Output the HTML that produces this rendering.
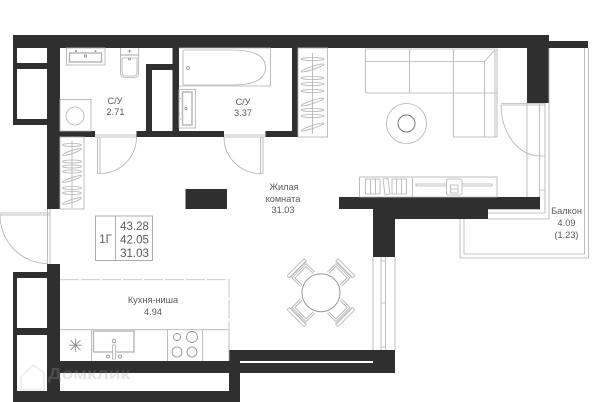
<!DOCTYPE html>
<html><head><meta charset="utf-8"><style>
html,body{margin:0;padding:0;background:#fff;width:600px;height:402px;overflow:hidden}
svg{display:block}
text{font-family:"Liberation Sans",sans-serif;fill:#5a5a5a;text-anchor:middle;font-size:9.200px}
.w{fill:#2f2f2f}
.l{fill:none;stroke:#b4b4b4;stroke-width:.85}
.d{fill:none;stroke:#8a8a8a;stroke-width:.8}
</style></head><body>
<svg width="600" height="402" viewBox="0 0 600 402" xmlns="http://www.w3.org/2000/svg">
<defs>
<g id="h"><ellipse cx="0" cy="0" rx="9.500" ry="1.500" class="l"/></g>
<g id="s"><ellipse cx="0" cy="0" rx="10" ry="1.500" class="l" transform="rotate(-18)"/></g>
<g id="h2"><ellipse cx="0" cy="0" rx="11.500" ry="1.500" class="l"/></g>
<g id="s2"><ellipse cx="0" cy="0" rx="12" ry="1.500" class="l" transform="rotate(-18)"/></g>
<g id="ch"><path class="l" d="M-10 -19 L-10 -31 L10 -31 L10 -19"/><path class="l" d="M-8 -19 L-8 -29 L8 -29 L8 -19"/><rect class="l" x="-12" y="-36" width="24" height="3.500" rx="1"/><path class="l" d="M-11 -33 H11"/></g>
</defs>

<!-- walls -->
<g class="w">
<rect x="13" y="35" width="536" height="13"/>
<rect x="527" y="48" width="22" height="55"/>
<rect x="549" y="41" width="39" height="7"/>
<rect x="13" y="48" width="4" height="77"/>
<rect x="17" y="63" width="30" height="6"/>
<rect x="17" y="119" width="30" height="6"/>
<rect x="47" y="48" width="13" height="161"/>
<rect x="60" y="131" width="35" height="6"/>
<rect x="136.500" y="131" width="87.500" height="6"/>
<rect x="265.500" y="131" width="32.500" height="6"/>
<rect x="292" y="48" width="6" height="89"/>
<rect x="172.500" y="48" width="6.500" height="89"/>
<rect x="146" y="64" width="33" height="6"/>
<rect x="146" y="64" width="6" height="73"/>
<rect x="185.500" y="189" width="41.500" height="20"/>
<rect x="339" y="197" width="201" height="12"/>
<rect x="373" y="209" width="115" height="10"/>
<rect x="373" y="209" width="22" height="48"/>
<rect x="47" y="264" width="13" height="138"/>
<rect x="13" y="272" width="4" height="130"/>
<rect x="17" y="272" width="30" height="6"/>
<rect x="17" y="328" width="30" height="7"/>
<rect x="13" y="391" width="227" height="11"/>
<rect x="60" y="361" width="170" height="12"/>
<rect x="229" y="350" width="166" height="11"/>
<rect x="229" y="363" width="166" height="10"/>
<rect x="373" y="361" width="22" height="2"/>
<rect x="229" y="350" width="11" height="52"/>
</g>

<!-- bathroom 1 -->
<rect class="l" x="66.500" y="48" width="38.500" height="17"/>
<rect class="l" x="69.500" y="53" width="32" height="9" style="stroke-width:1.400"/>
<circle class="d" cx="85.500" cy="56" r="1.200"/>
<circle class="d" cx="76" cy="51" r=".6"/><circle class="d" cx="95.500" cy="51" r=".6"/>
<path class="l" d="M120.500 48V73Q120.500 77 124 77.500H135Q138.500 77 138.500 73V48"/>
<path class="l" d="M122 58H137V72Q137 75.500 134 76H125Q122 75.500 122 72Z"/>
<path class="d" d="M120.500 55H138.500"/>
<path class="d" d="M127.500 51H131.500M129.500 49.500V52.500"/>
<circle class="d" cx="129.500" cy="59" r="1"/>
<rect class="l" x="60" y="99.500" width="31" height="31.500"/>
<circle class="l" cx="75" cy="116" r="9"/>

<!-- bath 2 -->
<path class="l" d="M179 48H270.500V86H179"/>
<path class="l" d="M183 50.500Q183 50 184 50H232Q265.500 50 265.500 67.500Q265.500 85 232 85H184Q183 85 183 84Z"/>
<circle class="d" cx="188" cy="68" r="1.500"/>
<rect class="l" x="179" y="89.500" width="16.500" height="38.500"/>
<rect class="l" x="182.500" y="92" width="9.500" height="33" style="stroke-width:1.400"/>
<circle class="d" cx="186" cy="108.500" r="1.100"/>
<path class="d" d="M180 98.500h1M180 119h1"/>

<!-- doors -->
<path class="l" d="M95 135H136.500M95 137H136.500"/>
<path class="l" d="M97.500 137V173.500H100V137"/>
<path class="l" d="M136.500 137A36.500 36.500 0 0 1 100 173.500"/>
<path class="l" d="M224 135H265.500M224 137H265.500"/>
<path class="l" d="M260.500 137V173.500H263V137"/>
<path class="l" d="M224 137A36.500 36.500 0 0 0 260.500 173.500"/>
<path class="l" d="M0 213H50M0 215H50"/>
<path class="l" d="M47.500 209V264M50 209V264"/>
<path class="l" d="M0 215A47.500 48.500 0 0 0 47.500 263.500"/>

<!-- wardrobes -->
<rect class="l" x="60" y="137" width="24" height="72"/>
<path class="l" d="M72 141V208"/>
<use href="#h" x="72" y="145"/><use href="#s" x="72" y="152"/>
<use href="#h" x="72" y="161.500"/><use href="#h" x="72" y="166.500"/><use href="#h" x="72" y="171.500"/>
<use href="#s" x="72" y="179"/><use href="#h" x="72" y="188"/><use href="#h" x="72" y="193"/><use href="#s" x="72" y="201"/>
<rect class="l" x="298" y="48" width="29.500" height="89"/>
<path class="l" d="M312.500 53V134"/>
<use href="#h2" x="312.500" y="59"/><use href="#s2" x="312.500" y="68"/>
<use href="#h2" x="312.500" y="78"/><use href="#h2" x="312.500" y="84"/><use href="#h2" x="312.500" y="91"/>
<use href="#s2" x="312.500" y="102"/><use href="#h2" x="312.500" y="110"/><use href="#h2" x="312.500" y="116"/><use href="#s2" x="312.500" y="127"/>

<!-- sofa -->
<path class="l" d="M365.500 49H497V137H453.500V93H367Q365.500 93 365.500 91.500Z"/>
<path class="l" d="M365.500 61.500H484.500V137"/>
<path class="l" d="M409.500 49V93M453.500 49V93M453.500 93H497M484.500 61.500L495 50M495 50V137"/>
<circle class="l" cx="406.500" cy="123.500" r="20"/>
<circle cx="406.500" cy="123.500" r="8.500" fill="none" stroke="#777" stroke-width="1"/>

<!-- tv stand -->
<rect class="l" x="359.500" y="177" width="137.500" height="20"/>
<path class="l" d="M412.500 177V197"/>
<path class="l" d="M365.500 179H380V194H365.500ZM370.500 179V194M375.500 179V194"/>
<path class="l" d="M383 179L388 178.500L390 194L385 195Z"/>
<path class="l" d="M392 179H406.500V194H392ZM396.500 179V194M401.500 179V194"/>
<path class="l" d="M416 184H492V186H416Z"/>
<rect class="l" x="446.500" y="179" width="15.500" height="16" rx="2" style="fill:#fff"/>
<path class="l" d="M450.500 185H458V193H450.500ZM450.500 189H458"/>

<!-- balcony door and glazing -->
<path class="l" d="M501 103.500H545M501 105H545"/>
<path class="l" d="M527 103V197M539.500 103V197M545 103V213M549 48V219H488M488 213H545M488 209.500H540"/>
<path class="l" d="M539.500 156H545M539.500 190H545"/>
<path class="l" d="M501 105A39 51 0 0 0 539.500 156"/>
<path class="l" d="M584.500 48V254H464V219M588.500 48V258H460V219"/>

<!-- living window -->
<path class="l" d="M373 257V350M395 257V350M381 257V350M385.500 257V350M381 261H385.500M381 303H385.500M381 347H385.500"/>

<!-- table -->
<use href="#ch" transform="translate(321 292.700) rotate(-45)"/>
<use href="#ch" transform="translate(321 292.700) rotate(45)"/>
<use href="#ch" transform="translate(321 292.700) rotate(135)"/>
<use href="#ch" transform="translate(321 292.700) rotate(225)"/>
<circle cx="321" cy="292.700" r="19" fill="#fff" stroke="#999" stroke-width="1"/>

<!-- kitchen -->
<path d="M60 279.700H229V329" fill="none" stroke="#c4c4c4" stroke-width=".9" stroke-dasharray="19 2"/>
<path class="l" d="M60 329.700H229V361M91.500 329.700V361M167.500 329.700V361M202.500 329.700V361"/>
<rect class="l" x="93.500" y="331" width="40.500" height="21" style="stroke-width:1.300"/>
<path class="d" d="M75.500 338.500V352M69 345.200H82M70.500 340.200L80.500 350.200M80.500 340.200L70.500 350.200"/>
<circle class="d" cx="114" cy="341" r="1.800"/>
<rect class="l" x="112.500" y="345" width="3" height="14" style="fill:#fff"/>
<circle class="d" cx="108" cy="356.500" r="1.500"/><circle class="d" cx="120" cy="356.500" r="1.500"/>
<circle class="d" cx="177" cy="337" r="3.500"/><circle class="d" cx="192" cy="337" r="5.500"/>
<circle class="d" cx="177" cy="352" r="5"/><circle class="d" cx="192" cy="352" r="5"/>

<!-- info box -->
<rect x="95.500" y="216" width="57" height="44.500" fill="none" stroke="#999" stroke-width=".8"/>
<path d="M115.500 216V260.500" stroke="#999" stroke-width=".8"/>
<text x="105.500" y="243" style="font-size:11.500px">1Г</text>
<text x="134.500" y="230" style="font-size:11.500px">43.28</text>
<text x="134.500" y="243.500" style="font-size:11.500px">42.05</text>
<text x="134.500" y="257" style="font-size:11.500px">31.03</text>

<!-- labels -->
<text x="115" y="104">С/У</text><text x="115.500" y="115">2.71</text>
<text x="243" y="105">С/У</text><text x="243" y="116">3.37</text>
<text x="284" y="190">Жилая</text><text x="283" y="202">комната</text><text x="283" y="213">31.03</text>
<text x="153" y="303">Кухня-ниша</text><text x="153" y="315">4.94</text>
<text x="566.500" y="214">Балкон</text><text x="566.500" y="226">4.09</text><text x="566.500" y="238">(1.23)</text>

<!-- watermark -->
<path d="M21 377L33 365L44 373V390H21Z" fill="none" stroke="#999" stroke-opacity=".2" stroke-width="1.500"/>
<text x="89" y="379" textLength="82" lengthAdjust="spacingAndGlyphs" style="font-size:16px;font-weight:bold;fill:#999;fill-opacity:.28">Домклик</text>
</svg>
</body></html>
